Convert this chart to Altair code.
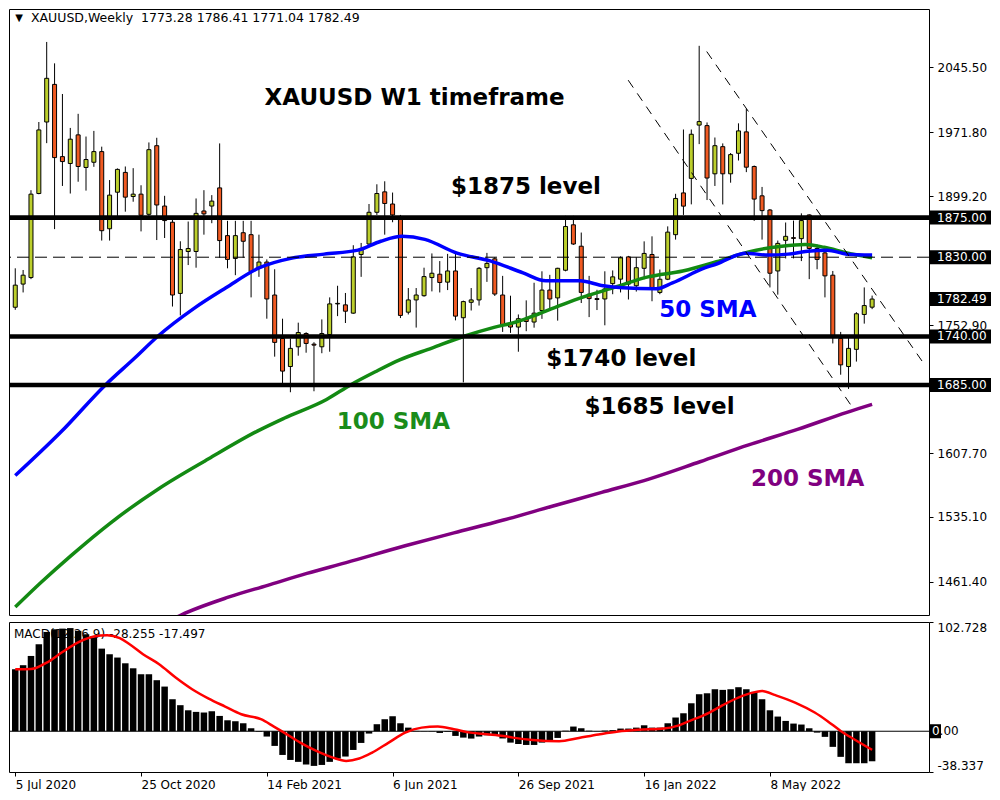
import altair as alt
import pandas as pd
import numpy as np

# ---------------- data ----------------
start_date = "2020-07-05"

opens = [1773.2, 1799.5, 1806.9, 1902.3, 1983.5, 2026.2, 1944.2, 1936.4, 1968.9, 1931.9,
         1937.8, 1949.9, 1862.3, 1903.8, 1926.3, 1898.9, 1901.6, 1878.7, 1956.6, 1888.1,
         1869.7, 1788.9, 1836.5, 1836.5, 1882.5, 1888.1, 1908.7, 1854.5, 1828.6, 1857.8,
         1855.6, 1817.4, 1824.5, 1787.1, 1737.7, 1705.9, 1728.3, 1743.4, 1731.3, 1728.3,
         1742.2, 1777.0, 1775.9, 1766.5, 1833.1, 1845.0, 1881.0, 1904.2, 1890.4, 1873.1,
         1767.6, 1781.5, 1786.3, 1806.9, 1810.7, 1801.7, 1814.4, 1761.3, 1778.8, 1781.5,
         1818.1, 1828.2, 1787.1, 1754.6, 1750.7, 1760.5, 1756.4, 1769.5, 1792.7, 1783.8,
         1815.2, 1866.8, 1842.5, 1788.0, 1783.0, 1782.6, 1800.0, 1805.1, 1830.4, 1797.6,
         1817.4, 1833.1, 1790.0, 1805.0, 1855.6, 1903.0, 1919.5, 1980.0, 1979.4, 1924.7,
         1955.5, 1924.7, 1948.0, 1972.3, 1933.0, 1899.7, 1883.6, 1814.4, 1849.2, 1852.2,
         1851.1, 1878.0, 1839.9, 1834.9, 1809.6, 1737.7, 1705.9, 1725.4, 1765.0, 1773.28]

highs = [1817.4, 1815.5, 1906.1, 1983.5, 2074.4, 2050.1, 2015.3, 1976.8, 1992.8, 1967.0,
         1973.4, 1955.5, 1917.6, 1930.8, 1933.0, 1931.1, 1911.7, 1960.3, 1965.6, 1899.7,
         1872.4, 1848.1, 1870.5, 1896.7, 1906.1, 1900.5, 1959.2, 1871.3, 1871.3, 1871.3,
         1871.3, 1855.6, 1827.5, 1816.3, 1760.2, 1737.7, 1755.7, 1744.8, 1733.5, 1759.4,
         1784.4, 1797.6, 1789.4, 1843.6, 1846.2, 1890.4, 1912.8, 1916.2, 1903.4, 1878.0,
         1795.0, 1795.0, 1818.1, 1834.3, 1825.6, 1833.8, 1833.8, 1780.7, 1795.0, 1818.9,
         1834.9, 1830.1, 1808.8, 1786.3, 1765.0, 1781.0, 1801.0, 1814.0, 1810.0, 1818.0,
         1877.0, 1877.0, 1858.0, 1808.8, 1793.0, 1814.0, 1815.0, 1831.0, 1831.5, 1830.0,
         1848.0, 1853.7, 1816.0, 1865.0, 1902.0, 1975.0, 1975.0, 2070.0, 1983.0, 1965.9,
         1959.2, 1948.3, 1982.0, 1998.5, 1934.1, 1909.8, 1884.7, 1848.9, 1869.4, 1871.6,
         1879.8, 1878.7, 1844.4, 1838.7, 1814.4, 1745.2, 1738.9, 1767.6, 1795.7, 1786.41]

lows = [1770.3, 1790.0, 1805.1, 1901.5, 1959.5, 1861.9, 1910.9, 1902.3, 1915.7, 1905.6,
        1932.6, 1848.9, 1848.9, 1876.9, 1881.7, 1893.0, 1859.3, 1876.9, 1849.5, 1851.8,
        1774.0, 1763.9, 1821.1, 1818.1, 1855.6, 1868.6, 1829.3, 1817.4, 1809.6, 1829.3,
        1784.4, 1807.7, 1760.2, 1717.1, 1687.2, 1676.7, 1718.2, 1721.6, 1677.8, 1721.0,
        1722.7, 1763.1, 1755.3, 1765.8, 1807.7, 1843.6, 1878.0, 1855.6, 1869.7, 1760.9,
        1765.0, 1750.1, 1785.2, 1791.2, 1790.0, 1792.7, 1758.3, 1687.9, 1769.5, 1775.1,
        1802.0, 1786.0, 1745.2, 1744.1, 1722.7, 1746.0, 1750.0, 1760.0, 1771.0, 1758.0,
        1814.0, 1844.0, 1778.0, 1762.0, 1770.0, 1752.7, 1788.0, 1790.0, 1782.0, 1791.0,
        1805.0, 1780.0, 1788.0, 1804.0, 1850.0, 1878.0, 1890.0, 1958.4, 1894.9, 1910.9,
        1889.9, 1914.6, 1939.8, 1926.6, 1871.3, 1850.0, 1795.7, 1787.5, 1828.6, 1828.6,
        1825.6, 1805.1, 1816.3, 1784.4, 1732.1, 1696.6, 1680.5, 1711.5, 1754.6, 1771.04]

closes = [1798.3, 1809.6, 1901.6, 1974.5, 2033.1, 1943.1, 1938.6, 1964.0, 1933.0, 1940.9,
          1949.9, 1860.1, 1900.5, 1929.7, 1898.2, 1901.6, 1877.6, 1952.1, 1889.3, 1871.6,
          1787.1, 1838.7, 1839.9, 1879.8, 1879.2, 1893.7, 1848.9, 1827.5, 1854.5, 1848.1,
          1813.6, 1824.5, 1782.6, 1733.3, 1700.7, 1726.5, 1744.5, 1732.1, 1730.2, 1743.4,
          1777.0, 1777.6, 1768.7, 1830.4, 1839.9, 1881.0, 1902.3, 1891.0, 1878.0, 1763.9,
          1781.5, 1787.1, 1808.0, 1811.8, 1801.3, 1814.4, 1763.1, 1779.6, 1781.5, 1817.4,
          1823.0, 1788.2, 1753.5, 1750.7, 1760.2, 1757.0, 1766.5, 1792.7, 1782.6, 1817.4,
          1864.9, 1845.0, 1790.0, 1783.0, 1782.0, 1794.0, 1807.7, 1829.3, 1799.5, 1818.1,
          1834.3, 1793.9, 1805.0, 1858.5, 1896.7, 1888.0, 1969.6, 1984.0, 1919.9, 1956.6,
          1924.7, 1946.5, 1973.4, 1932.2, 1896.0, 1882.9, 1811.8, 1845.7, 1853.7, 1851.4,
          1871.6, 1839.9, 1827.5, 1808.8, 1740.3, 1707.8, 1726.5, 1765.8, 1775.1, 1782.49]

macd_main = [58.3, 62.1, 70.8, 81.8, 93.4, 95.9, 96.5, 97.0, 94.4, 91.2,
             88.1, 77.7, 72.4, 69.3, 63.9, 59.2, 53.6, 53.6, 48.0, 42.0,
             30.1, 24.5, 19.7, 18.2, 17.6, 18.8, 14.4, 10.3, 9.4, 7.5,
             2.8, -0.5, -5.0, -13.8, -22.3, -27.0, -28.8, -31.3, -32.6, -31.7,
             -28.8, -25.7, -23.8, -17.6, -11.0, -2.2, 6.6, 11.3, 14.1, 7.5,
             3.4, 0.3, 0.2, -0.3, -1.6, -0.6, -4.4, -6.0, -6.9, -5.0,
             -3.8, -3.3, -6.8, -10.7, -11.9, -12.9, -12.9, -10.7, -9.1, -6.3,
             0.5, 4.4, 2.8, 0.5, 0.2, 0.6, 1.0, 2.5, 2.5, 3.4,
             5.6, 3.4, 3.4, 7.5, 12.9, 16.9, 26.3, 34.8, 35.7, 39.5,
             38.9, 39.5, 41.4, 39.5, 37.0, 30.1, 19.7, 13.8, 9.7, 7.2,
             6.3, 2.8, -1.3, -5.3, -14.7, -24.1, -30.1, -30.1, -30.1, -28.255]

signal_week = [0, 2, 4, 6, 8, 10, 11.7, 13.3, 14.5, 16.25, 18.3, 20.4, 22.5, 24.6, 26.7,
               28.75, 31.25, 32.9, 34.2, 36.25, 38.3, 40.4, 42.1, 43.75, 45.4, 47.5, 49.6,
               51.7, 53.75, 55.8, 57.9, 60, 62.1, 63.3, 65.8, 69.2, 71.7, 74.2, 76.7, 79.2,
               82.5, 84.2, 85.8, 88.3, 90, 92.5, 94.2, 95, 96.7, 99.2, 101.7, 103.3, 105,
               106.7, 109]
signal_val = [58.3, 58.5, 64.5, 74.5, 83.5, 89.0, 90.3, 87.5, 82.0, 72.4, 63.0, 50.5, 39.5,
              30.7, 23.2, 16.0, 11.3, 4.4, -1.3, -10.7, -18.5, -24.8, -27.9, -25.7, -20.1,
              -10.7, -1.3, 3.4, 4.4, 1.9, -1.3, -2.8, -4.4, -6.0, -8.2, -9.4, -6.3, -3.1,
              -0.3, 1.3, 2.5, 5.0, 9.7, 17.6, 24.5, 33.2, 37.0, 37.9, 33.9, 27.0, 17.6, 9.7,
              0.3, -7.5, -17.497]

sma50_week = [0, 5.8, 11.5, 15.2, 18.1, 22.7, 26.8, 31, 35.2, 39.3, 43.6, 46.5, 49.2, 52.1,
              56.2, 60.5, 64.6, 67.5, 71.8, 74.8, 77.3, 81.5, 83.6, 87.7, 89.2, 92.9, 95.8,
              98.3, 100.8, 103.3, 105.8, 109]
sma50_val = [1582.1, 1631.5, 1685.3, 1715.6, 1740.0, 1771.7, 1795.3, 1817.8, 1829.0, 1833.5,
             1838.0, 1848.1, 1853.7, 1850.3, 1834.6, 1825.6, 1812.2, 1803.2, 1803.2, 1797.6,
             1795.3, 1794.2, 1800.9, 1817.8, 1822.3, 1834.6, 1832.4, 1833.5, 1836.8, 1838.0,
             1833.5, 1832.4]

sma100_week = [0, 3.3, 7.1, 12.1, 18.3, 24.6, 30.8, 34.2, 39.6, 42.7, 45.8, 48.9, 53, 57.1,
               60.9, 63.7, 66.7, 69.6, 72.1, 76.2, 80.5, 84.9, 89.2, 93.3, 97.5, 100.5, 102.9,
               105.8, 109]
sma100_val = [1432.8, 1460.9, 1491.2, 1528.2, 1567.5, 1601.2, 1632.6, 1647.2, 1668.5, 1685.3,
              1699.9, 1713.4, 1726.9, 1740.3, 1750.4, 1756.4, 1766.1, 1776.2, 1784.4, 1795.7,
              1807.7, 1814.4, 1824.8, 1836.1, 1842.5, 1844.4, 1841.3, 1834.9, 1829.3]

sma200_week = [20, 21.1, 27.1, 32.1, 37.1, 42.1, 49.6, 55.8, 62.1, 68.3, 74.6, 80.8, 87.1,
               93.3, 99.6, 105.8, 109]
sma200_val = [1419.0, 1423.8, 1444.0, 1457.5, 1471.0, 1483.3, 1502.4, 1517.0, 1531.6, 1547.3,
              1563.0, 1578.7, 1597.8, 1616.9, 1634.8, 1653.9, 1662.9]

solid_levels = [1875.0, 1740.0, 1685.0]
dashed_level = [1830.0]
box_prices = [1875.0, 1830.0, 1782.49, 1740.0, 1685.0]
box_labels = ["1875.00", "1830.00", "1782.49", "1740.00", "1685.00"]

price_ticks = [2045.50, 1971.80, 1899.20, 1752.90, 1607.70, 1535.10, 1461.40]
macd_ticks = [102.728, 0.0, -38.337]
macd_tick_labels = ["102.728", "", "-38.337"]
date_tick_weeks = [0, 16, 32, 48, 64, 80, 96]
date_tick_labels = ["5 Jul 2020", "25 Oct 2020", "14 Feb 2021", "6 Jun 2021",
                    "26 Sep 2021", "16 Jan 2022", "8 May 2022"]

channel_name = ["A", "A", "B", "B"]
channel_week = [77.97, 106.5, 87.96, 115.6]
channel_price = [2031.0, 1659.5, 2063.5, 1708.9]

ann_text = ["XAUUSD W1 timeframe", "$1875 level", "$1740 level", "$1685 level",
            "50 SMA", "100 SMA", "200 SMA"]
ann_week = [50.8, 64.96, 77.1, 81.96, 88.1, 48.1, 100.8]
ann_price = [2010.8, 1909.8, 1714.5, 1659.5, 1770.6, 1642.7, 1578.7]
ann_color = ["#000000", "#000000", "#000000", "#000000", "#0000ff", "#1a8c1a", "#800080"]

header_text = "XAUUSD,Weekly\u00a0 1773.28 1786.41 1771.04 1782.49"
macd_label_text = "MACD(12,26,9) -28.255 -17.497"

x_domain = [-0.16, 115.6]
price_domain = [1423.8, 2111.8]
macd_domain = [-38.337, 102.728]

# ---------------- build ----------------
W = 920
H_PRICE = 606
H_MACD = 150
FONT = "DejaVu Sans"
BULL = "#bccf2c"
BEAR = "#f05a22"
P_PER_PX = (price_domain[1] - price_domain[0]) / H_PRICE
M_PER_PX = (macd_domain[1] - macd_domain[0]) / H_MACD

n = len(opens)
candles = pd.DataFrame({
    "week": list(range(n)),
    "date": pd.date_range(start_date, periods=n, freq="7D").strftime("%Y-%m-%d"),
    "open": opens, "high": highs, "low": lows, "close": closes, "macd": macd_main,
})
candles["dir"] = np.where(candles["close"] >= candles["open"], "up", "down")

xscale = alt.Scale(domain=x_domain, nice=False, zero=False)
pscale = alt.Scale(domain=price_domain, nice=False, zero=False)
mscale = alt.Scale(domain=macd_domain, nice=False, zero=False)

price_axis = alt.Axis(orient="right", values=price_ticks, format=".2f", tickSize=4,
                      labelPadding=4, title=None, grid=False, domain=False,
                      labelFont=FONT, labelFontSize=12, labelColor="black")
x_label_expr = " : ".join(f"datum.value == {w} ? '{l}'"
                          for w, l in zip(date_tick_weeks, date_tick_labels)) + " : ''"
macd_label_expr = " : ".join(f"datum.value == {v} ? '{l}'"
                             for v, l in zip(macd_ticks, macd_tick_labels)) + " : ''"
x_axis = alt.Axis(values=date_tick_weeks, labelExpr=x_label_expr, labelAlign="left",
                  labelFlush=False, tickSize=4, labelPadding=3, title=None, grid=False,
                  domain=False, labelOverlap=False, labelFont=FONT, labelFontSize=12,
                  labelColor="black")
macd_axis = alt.Axis(orient="right", values=macd_ticks, labelExpr=macd_label_expr,
                     labelFlush=True, tickSize=4, labelPadding=4, title=None, grid=False,
                     domain=False, labelFont=FONT, labelFontSize=12, labelColor="black")

XP = alt.X("week:Q", scale=xscale, axis=None, title=None)
XM = alt.X("week:Q", scale=xscale, axis=x_axis, title=None)


def yp(field):
    return alt.Y(field, scale=pscale, axis=price_axis, title=None)


def ym(field):
    return alt.Y(field, scale=mscale, axis=macd_axis, title=None)


wicks = alt.Chart(candles).mark_rule(color="black", strokeWidth=1, clip=True).encode(
    x=XP, y=yp("low:Q"), y2="high:Q")

bodies = alt.Chart(candles).mark_bar(width=4, stroke="black", strokeWidth=1,
                                     clip=True).encode(
    x=XP, y=yp("open:Q"), y2="close:Q",
    color=alt.Color("dir:N", scale=alt.Scale(domain=["up", "down"], range=[BULL, BEAR]),
                    legend=None))


def sma_layer(weeks, vals, color):
    d = pd.DataFrame({"week": weeks, "value": vals})
    return alt.Chart(d).mark_line(color=color, strokeWidth=3.5, interpolate="monotone",
                                  clip=True).encode(x=XP, y=yp("value:Q"))


sma200 = sma_layer(sma200_week, sma200_val, "#800080")
sma100 = sma_layer(sma100_week, sma100_val, "#138a13")
sma50 = sma_layer(sma50_week, sma50_val, "#0000ff")

half_line = 2.3 * P_PER_PX
solid = alt.Chart(pd.DataFrame({"price": solid_levels})).transform_calculate(
    lo=f"datum.price - {half_line}", hi=f"datum.price + {half_line}").mark_rect(
    color="black").encode(y=yp("lo:Q"), y2="hi:Q", x=alt.value(0), x2=alt.value(W + 1))
dashed = alt.Chart(pd.DataFrame({"price": dashed_level})).mark_rule(
    color="black", strokeWidth=1, strokeDash=[12, 6], clip=True).encode(y=yp("price:Q"))

channel = alt.Chart(pd.DataFrame({"name": channel_name, "week": channel_week,
                                  "price": channel_price})).mark_line(
    color="black", strokeWidth=1, strokeDash=[9, 7], clip=True).encode(
    x=XP, y=yp("price:Q"), detail="name:N")

ann = alt.Chart(pd.DataFrame({"text": ann_text, "week": ann_week, "price": ann_price,
                              "color": ann_color})).mark_text(
    font=FONT, fontWeight="bold", fontSize=23, align="center", baseline="middle").encode(
    x=XP, y=yp("price:Q"), text="text:N", color=alt.Color("color:N", scale=None))

half_box = 7 * P_PER_PX
boxes = pd.DataFrame({"price": box_prices, "label": box_labels})
box_rect = alt.Chart(boxes).transform_calculate(
    lo=f"datum.price - {half_box}", hi=f"datum.price + {half_box}").mark_rect(
    color="black").encode(y=yp("lo:Q"), y2="hi:Q", x=alt.value(W + 1), x2=alt.value(W + 62))
box_text = alt.Chart(boxes).mark_text(color="white", align="left", baseline="middle",
                                      font=FONT, fontSize=12).encode(
    y=yp("price:Q"), x=alt.value(W + 8), text="label:N")

header = alt.Chart(pd.DataFrame({"t": [header_text]})).mark_text(
    align="left", baseline="middle", font=FONT, fontSize=12.5, color="black").encode(
    text="t:N", x=alt.value(22), y=alt.value(9))
tri = alt.Chart(pd.DataFrame({"t": ["\u25bc"]})).mark_text(
    align="center", baseline="middle", font=FONT, fontSize=10, color="black").encode(
    text="t:N", x=alt.value(10), y=alt.value(9))

price_panel = alt.layer(wicks, bodies, sma200, sma100, sma50, solid, dashed, channel,
                        ann, box_rect, box_text, header, tri).properties(
    width=W, height=H_PRICE)

# ---------------- MACD panel ----------------
macd_label = alt.Chart(pd.DataFrame({"t": [macd_label_text]})).mark_text(
    align="left", baseline="middle", font=FONT, fontSize=12, color="black").encode(
    text="t:N", x=alt.value(5), y=alt.value(12))

bars = alt.Chart(candles).mark_bar(width=6.5, color="black", clip=True).encode(
    x=XM, y=ym("macd:Q"), y2=alt.datum(0))

zero_rule = alt.Chart(pd.DataFrame({"v": [0.0]})).mark_rule(
    color="black", strokeWidth=1, clip=True).encode(y=ym("v:Q"))

signal = alt.Chart(pd.DataFrame({"week": signal_week, "value": signal_val})).mark_line(
    color="#ff0000", strokeWidth=2.5, interpolate="monotone", clip=True).encode(
    x=XM, y=ym("value:Q"))

half_zero = 7 * M_PER_PX
zero_df = pd.DataFrame({"v": [0.0], "a": ["0"], "b": [".00"]})
zero_box = alt.Chart(zero_df).transform_calculate(
    lo=f"datum.v - {half_zero}", hi=f"datum.v + {half_zero}").mark_rect(
    color="black").encode(y=ym("lo:Q"), y2="hi:Q", x=alt.value(W + 1), x2=alt.value(W + 12))
zero_txt1 = alt.Chart(zero_df).mark_text(
    align="left", baseline="middle", font=FONT, fontSize=12, color="white").encode(
    y=ym("v:Q"), x=alt.value(W + 3), text="a:N")
zero_txt2 = alt.Chart(zero_df).mark_text(
    align="left", baseline="middle", font=FONT, fontSize=12, color="black").encode(
    y=ym("v:Q"), x=alt.value(W + 10.6), text="b:N")

macd_panel = alt.layer(macd_label, bars, zero_rule, signal, zero_box, zero_txt1,
                       zero_txt2).properties(width=W, height=H_MACD)

chart = alt.vconcat(price_panel, macd_panel, spacing=4).properties(
    padding={"left": 0, "top": 0, "right": 0, "bottom": 0}, background="white"
).configure_view(stroke="black", strokeWidth=1).configure_axis(
    grid=False, labelFont=FONT, labelFontSize=12, labelColor="black",
    tickColor="black", tickWidth=1, domain=False)

chart.save("out.html", embed_options={"renderer": "svg", "actions": False})
